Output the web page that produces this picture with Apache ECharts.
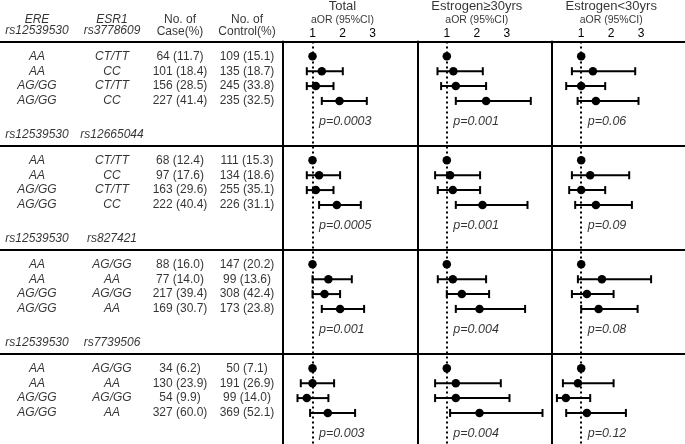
<!DOCTYPE html>
<html><head><meta charset="utf-8">
<script src="https://cdn.jsdelivr.net/npm/echarts@6/dist/echarts.min.js"></script>
<style>html,body{margin:0;padding:0;background:#fff}#c{width:685px;height:444px}</style>
</head><body><div id="c"></div>
<script>
// ---------------- DATA ----------------
const ereSnp = 'rs12539530';
const ereLabel = 'ERE';
const esrLabel = 'ESR1';
const esrSnps = ['rs3778609', 'rs12665044', 'rs827421', 'rs7739506'];
const ereGeno = ['AA', 'AA', 'AG/GG', 'AG/GG'];
const esrGeno = [
  ['CT/TT', 'CC', 'CT/TT', 'CC'],
  ['CT/TT', 'CC', 'CT/TT', 'CC'],
  ['AG/GG', 'AA', 'AG/GG', 'AA'],
  ['AG/GG', 'AA', 'AG/GG', 'AA']
];
const caseN = [[64, 101, 156, 227], [68, 97, 163, 222], [88, 77, 217, 169], [34, 130, 54, 327]];
const casePct = [['11.7', '18.4', '28.5', '41.4'], ['12.4', '17.6', '29.6', '40.4'], ['16.0', '14.0', '39.4', '30.7'], ['6.2', '23.9', '9.9', '60.0']];
const ctrlN = [[109, 135, 245, 235], [111, 134, 255, 226], [147, 99, 308, 173], [50, 191, 99, 369]];
const ctrlPct = [['15.1', '18.7', '33.8', '32.5'], ['15.3', '18.6', '35.1', '31.1'], ['20.2', '13.6', '42.4', '23.8'], ['7.1', '26.9', '14.0', '52.1']];
const caseHeader = ['No. of', 'Case(%)'];
const ctrlHeader = ['No. of', 'Control(%)'];

const panelNames = ['Total', 'Estrogen\u226530yrs', 'Estrogen<30yrs'];
const panelSub = 'aOR (95%CI)';
const tickValues = [1, 2, 3];

const orTotal = [[1, 1.31, 1.11, 1.90], [1, 1.22, 1.11, 1.81], [1, 1.53, 1.40, 1.92], [1, 1.00, 0.81, 1.51]];
const loTotal = [[null, 0.81, 0.81, 1.31], [null, 0.81, 0.81, 1.22], [null, 1.00, 1.00, 1.31], [null, 0.61, 0.50, 0.92]];
const hiTotal = [[null, 2.01, 1.70, 2.81], [null, 1.92, 1.70, 2.61], [null, 2.31, 1.92, 2.72], [null, 1.72, 1.53, 2.42]];
const pTotal = ['0.0003', '0.0005', '0.001', '0.003'];

const orHigh = [[1, 1.22, 1.30, 2.31], [1, 1.11, 1.20, 2.19], [1, 1.20, 1.50, 2.09], [1, 1.30, 1.30, 2.09]];
const loHigh = [[null, 0.69, 0.81, 1.30], [null, 0.61, 0.70, 1.30], [null, 0.70, 1.00, 1.30], [null, 0.61, 0.61, 1.11]];
const hiHigh = [[null, 2.20, 2.31, 3.80], [null, 2.11, 2.11, 3.69], [null, 2.31, 2.41, 3.61], [null, 2.80, 3.09, 4.19]];
const pHigh = ['0.001', '0.001', '0.004', '0.004'];

const orLow = [[1, 1.39, 1.00, 1.49], [1, 1.30, 1.00, 1.49], [1, 1.69, 1.19, 1.58], [1, 0.89, 0.49, 1.19]];
const loLow = [[null, 0.69, 0.50, 0.88], [null, 0.69, 0.60, 0.80], [null, 0.89, 0.69, 1.00], [null, 0.39, 0.19, 0.50]];
const hiLow = [[null, 2.80, 1.80, 2.91], [null, 2.60, 1.80, 2.69], [null, 3.33, 2.08, 2.88], [null, 2.08, 1.30, 2.49]];
const pLow = ['0.06', '0.09', '0.08', '0.12'];

// ---------------- LAYOUT / STYLE ----------------
const FONT = '"Liberation Sans", Arial, Helvetica, sans-serif';
const INK = '#000';
const W = 685, H = 444;
const SEC = 7;                 // row units per section
const Y_MIN = -3.793, Y_MAX = 26.09;
const PANEL_TOP = 41.5;
const PANEL_LEFT = [283, 417.3, 551.7];
const PANEL_W = 134.3;
const PX_PER_UNIT = 30, ONE_OFFSET = 29.5;
const X_MIN = 1 - ONE_OFFSET / PX_PER_UNIT;
const X_MAX = X_MIN + PANEL_W / PX_PER_UNIT;
const COL_X = { ere: 37, esr: 112, cas: 180, ctl: 247 };
const ROW_TITLE = -3.39, ROW_HDR1 = -2.45, ROW_HDR2 = -1.68, SNP_ROW = -1.72, P_ROW = 4.375;
const LINE_ROWS = [-1, 6, 13, 20];

const panels = [
  { or: orTotal, lo: loTotal, hi: hiTotal, p: pTotal },
  { or: orHigh, lo: loHigh, hi: hiHigh, p: pHigh },
  { or: orLow, lo: loLow, hi: hiLow, p: pLow }
];

// ---------------- BUILD ----------------
function txt(x, y, text, opts) {
  opts = opts || {};
  return {
    name: text, value: [x, y],
    label: {
      show: true, position: 'inside', align: opts.align || 'center', verticalAlign: 'middle',
      fontStyle: opts.italic ? 'italic' : 'normal', fontSize: opts.size || 12,
      fontFamily: FONT, color: INK, textBorderWidth: 0
    }
  };
}

const tableItems = [];
tableItems.push(txt(COL_X.ere, ROW_HDR1, ereLabel, { italic: true }));
tableItems.push(txt(COL_X.esr, ROW_HDR1, esrLabel, { italic: true }));
tableItems.push(txt(COL_X.cas, ROW_HDR1, caseHeader[0]));
tableItems.push(txt(COL_X.cas, ROW_HDR2, caseHeader[1]));
tableItems.push(txt(COL_X.ctl, ROW_HDR1, ctrlHeader[0]));
tableItems.push(txt(COL_X.ctl, ROW_HDR2, ctrlHeader[1]));
for (let s = 0; s < esrSnps.length; s++) {
  tableItems.push(txt(COL_X.ere, s * SEC + SNP_ROW, ereSnp, { italic: true }));
  tableItems.push(txt(COL_X.esr, s * SEC + SNP_ROW, esrSnps[s], { italic: true }));
  for (let r = 0; r < 4; r++) {
    const y = s * SEC + r;
    tableItems.push(txt(COL_X.ere, y, ereGeno[r], { italic: true }));
    tableItems.push(txt(COL_X.esr, y, esrGeno[s][r], { italic: true }));
    tableItems.push(txt(COL_X.cas, y, caseN[s][r] + ' (' + casePct[s][r] + ')'));
    tableItems.push(txt(COL_X.ctl, y, ctrlN[s][r] + ' (' + ctrlPct[s][r] + ')'));
  }
}
panelNames.forEach((n, i) => {
  const cx = PANEL_LEFT[i] + ONE_OFFSET + PX_PER_UNIT;
  tableItems.push(txt(cx, ROW_TITLE, n, { size: 13 }));
  tableItems.push(txt(cx, ROW_HDR1, panelSub, { size: 10.5 }));
});

const grids = [{ left: 0, top: 0, width: W, height: H, outerBoundsMode: 'none' }];
const xAxes = [{ gridIndex: 0, type: 'value', min: 0, max: W, show: false }];
const yAxes = [{ gridIndex: 0, type: 'value', min: Y_MIN, max: Y_MAX, inverse: true, show: false }];
const series = [{
  type: 'scatter', xAxisIndex: 0, yAxisIndex: 0, symbolSize: 1, clip: false, silent: true,
  itemStyle: { color: 'transparent' },
  label: { formatter: p => p.name },
  data: tableItems,
  markLine: {
    silent: true, symbol: ['none', 'none'], label: { show: false },
    lineStyle: { color: INK, width: 2, type: 'solid', opacity: 1 },
    data: LINE_ROWS.map(v => ({ yAxis: v }))
  }
}];

panels.forEach((pn, i) => {
  const gi = i + 1;
  grids.push({ left: PANEL_LEFT[i], top: PANEL_TOP, width: PANEL_W, height: H - PANEL_TOP, outerBoundsMode: 'none' });
  xAxes.push({
    gridIndex: gi, type: 'value', position: 'top', min: X_MIN, max: X_MAX,
    axisLine: { show: false }, axisTick: { show: false }, splitLine: { show: false },
    axisLabel: { customValues: tickValues, margin: 2, fontSize: 12, color: INK, fontFamily: FONT }
  });
  yAxes.push({
    gridIndex: gi, type: 'value', min: -1, max: Y_MAX, inverse: true,
    axisLine: { show: true, onZero: false, lineStyle: { color: INK, width: 2 } },
    axisTick: { show: false }, axisLabel: { show: false }, splitLine: { show: false }
  });
  const ci = [], pts = [], pv = [];
  for (let s = 0; s < pn.or.length; s++) {
    for (let r = 0; r < 4; r++) {
      const y = s * SEC + r;
      pts.push([pn.or[s][r], y]);
      if (pn.lo[s][r] != null) ci.push([pn.lo[s][r], pn.hi[s][r], y]);
    }
    pv.push({ name: 'p=' + pn.p[s], value: [1, s * SEC + P_ROW] });
  }
  series.push({
    type: 'custom', xAxisIndex: gi, yAxisIndex: gi, silent: true,
    encode: { x: [0, 1], y: 2 },
    data: ci,
    renderItem: function (params, api) {
      const y = api.value(2);
      const a = api.coord([api.value(0), y]);
      const b = api.coord([api.value(1), y]);
      const h = 4;
      const st = { stroke: INK, lineWidth: 2 };
      return {
        type: 'group', children: [
          { type: 'line', shape: { x1: a[0], y1: a[1], x2: b[0], y2: b[1] }, style: st },
          { type: 'line', shape: { x1: a[0], y1: a[1] - h, x2: a[0], y2: a[1] + h }, style: st },
          { type: 'line', shape: { x1: b[0], y1: b[1] - h, x2: b[0], y2: b[1] + h }, style: st }
        ]
      };
    }
  });
  series.push({
    type: 'scatter', xAxisIndex: gi, yAxisIndex: gi, silent: true, symbol: 'circle', symbolSize: 8.5,
    itemStyle: { color: INK, opacity: 1 }, data: pts, z: 3,
    markLine: {
      silent: true, symbol: ['none', 'none'], label: { show: false },
      lineStyle: { color: INK, width: 2, type: [2, 3], opacity: 1 },
      data: [{ xAxis: 1 }]
    }
  });
  series.push({
    type: 'scatter', xAxisIndex: gi, yAxisIndex: gi, silent: true, symbolSize: 1,
    itemStyle: { color: 'transparent' }, data: pv,
    label: {
      show: true, position: 'right', distance: 6, formatter: p => p.name,
      fontStyle: 'italic', fontSize: 12.5, fontFamily: FONT, color: INK
    }
  });
});

const chart = echarts.init(document.getElementById('c'), null, { renderer: 'canvas' });
chart.setOption({
  animation: false,
  backgroundColor: '#fff',
  grid: grids, xAxis: xAxes, yAxis: yAxes, series: series
});
</script></body></html>
